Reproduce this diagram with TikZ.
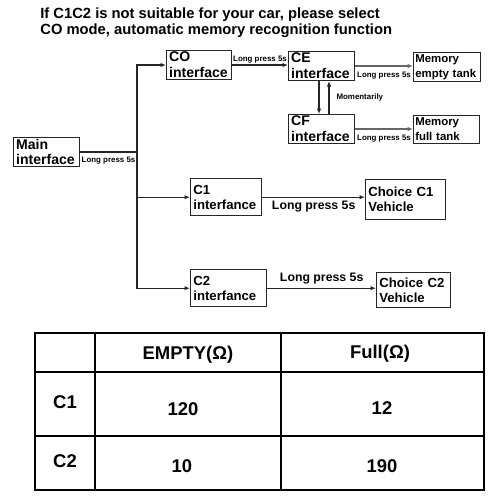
\documentclass[tikz,border=0pt]{standalone}
\usepackage{fontspec}
\setmainfont{Liberation Sans}
\usetikzlibrary{arrows.meta,positioning}
\tikzset{
  box/.style 2 args={draw=black!85,line width=0.6pt,anchor=north west,inner xsep=1.5pt,inner ysep=0.5pt,text width=#1,minimum height=#2,align=left,font=\bfseries\fontsize{8}{9}\selectfont},
  membox/.style 2 args={box={#1}{#2},inner xsep=1pt,font=\bfseries\fontsize{6.5}{8.5}\selectfont},
  bigbox/.style 2 args={box={#1}{#2},line width=0.8pt,font=\bfseries\fontsize{7.5}{8.5}\selectfont},
  title/.style={anchor=north west,inner sep=0pt,align=left,font=\bfseries\fontsize{8.4}{9.6}\selectfont},
  lbl/.style={font=\bfseries\fontsize{4.5}{5}\selectfont,inner sep=1pt},
  biglbl/.style={font=\bfseries\fontsize{7}{8}\selectfont,inner sep=2pt},
  line/.style={line width=0.6pt,draw=black!85},
  arrow/.style={-{Latex[length=1.1mm,width=0.9mm]},line width=0.6pt,draw=black!85},
  graystep/.style={arrow,draw=black!60},
  tbl/.style={line width=0.9pt,draw=black},
  cell/.style={font=\bfseries\fontsize{10.5}{12}\selectfont,inner sep=0pt}
}
\begin{document}
\begin{tikzpicture}[x=0.02cm,y=-0.02cm]
  \useasboundingbox (0,0) rectangle (500,500);
  \node[title] (title) at (40,7) {If C1C2 is not suitable for your car, please select\\CO mode, automatic memory recognition function};
  \node[box={1.214cm}{0.58cm}] (main) at (13,137) {Main\\interface};
  \node[box={1.194cm}{0.58cm}] (co) at (166,50) {CO\\interface};
  \node[box={1.214cm}{0.58cm}] (ce) at (288,51) {CE\\interface};
  \node[box={1.214cm}{0.58cm}] (cf) at (288,114) {CF\\interface};
  \node[membox={1.27cm}{0.58cm}] (meme) at (413,52) {Memory\\empty tank};
  \node[membox={1.25cm}{0.56cm}] (memf) at (413,115) {Memory\\full tank};
  \node[bigbox={1.314cm}{0.74cm}] (c1) at (190,178) {C1\\interfance};
  \node[bigbox={1.494cm}{0.80cm}] (ch1) at (365,179) {Choice C1\\Vehicle};
  \node[bigbox={1.414cm}{0.74cm}] (c2) at (190,269) {C2\\interfance};
  \node[bigbox={1.374cm}{0.70cm}] (ch2) at (376,272) {Choice C2\\Vehicle};
  \coordinate (split) at (137,152);
  \draw[line] (main.east |- split) -- node[lbl,below=1.5pt]{Long press 5s} (split);
  \draw[arrow] (split) |- (co.west);
  \draw[arrow] (split) |- (c1.west);
  \draw[arrow] (split) |- (c2.west);
  \draw[arrow] (co.east) -- node[lbl,above]{Long press 5s} (co.east -| ce.west);
  \draw[graystep] (ce.east) -- node[lbl,below=2pt]{Long press 5s} (ce.east -| meme.west);
  \draw[arrow] ([xshift=-0.05cm]ce.south) -- ([xshift=-0.05cm]cf.north);
  \draw[arrow] ([xshift=0.15cm]cf.north) -- node[lbl,right=3pt]{Momentarily} ([xshift=0.15cm]ce.south);
  \draw[graystep] (cf.east) -- node[lbl,below=2pt]{Long press 5s} (cf.east -| memf.west);
  \draw[arrow] (c1.east) -- node[biglbl,below]{Long press 5s} (c1.east -| ch1.west);
  \draw[arrow] (c2.east) -- node[biglbl,above]{Long press 5s} (c2.east -| ch2.west);
  \draw[tbl] (35,333) rectangle (484,490);
  \draw[tbl] (95,333) -- (95,490) (281,333) -- (281,490);
  \draw[tbl] (35,372) -- (484,372) (35,436) -- (484,436);
  \node[cell] (hde) at (188,355) {EMPTY(Ω)};
  \node[cell] (hdf) at (380,354) {Full(Ω)};
  \node[cell] (rc1) at (65,402) {C1};
  \node[cell] (rc2) at (65,461) {C2};
  \node[cell] (e1) at (183,409) {120};
  \node[cell] (f1) at (382,408) {12};
  \node[cell] (e2) at (182,466) {10};
  \node[cell] (f2) at (382,466) {190};
\end{tikzpicture}
\end{document}
